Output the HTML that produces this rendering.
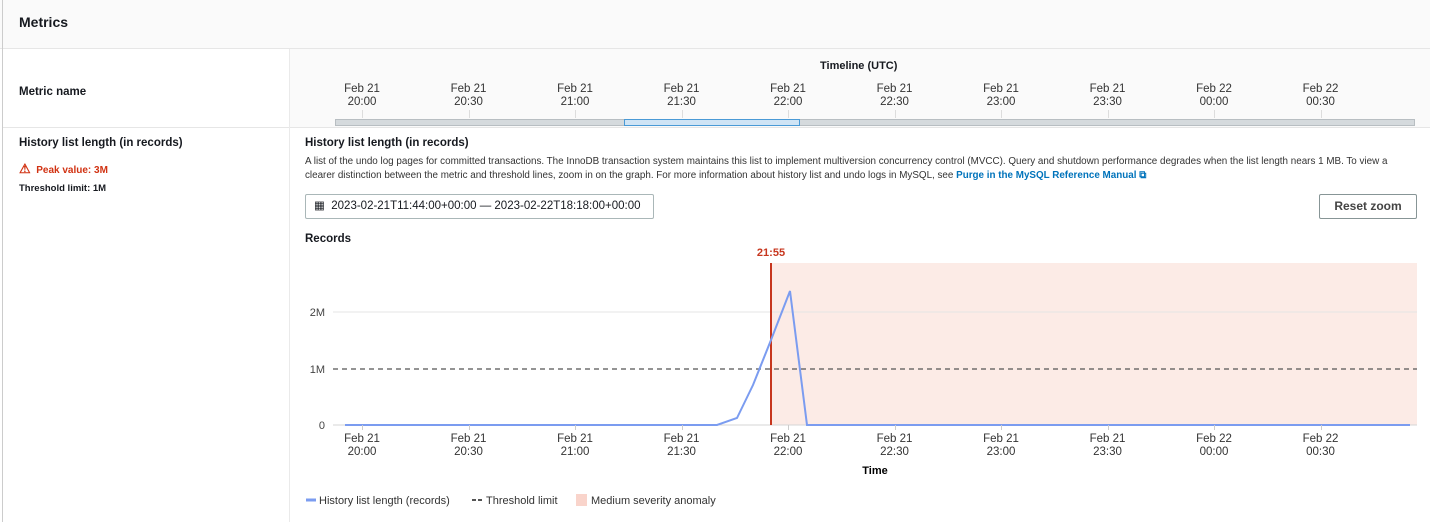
<!DOCTYPE html>
<html><head><meta charset="utf-8"><style>
body{margin:0;width:1430px;height:522px;background:#fff;font-family:"Liberation Sans",sans-serif;color:#16191f;position:relative;overflow:hidden}
.a{position:absolute;white-space:nowrap}
.b{font-weight:bold}
.t{font-size:11.5px;color:#333;text-align:center;width:60px;line-height:13px}
</style></head><body>
<div class="a" style="left:0;top:0;width:1430px;height:48px;background:#fafafa;border-bottom:1px solid #e6e6e6"></div>
<div class="a" style="left:2px;top:0;width:1px;height:522px;background:#ccc"></div>
<div class="a b" style="left:19px;top:14px;font-size:14px">Metrics</div>
<div class="a" style="left:3px;top:49px;width:1427px;height:78px;background:#fff;border-bottom:1px solid #e6e6e6"></div>
<div class="a" style="left:289px;top:49px;width:1141px;height:31px;background:#fafafa;border-bottom:1px solid #eaeaea"></div>
<div class="a" style="left:289px;top:80px;width:1141px;height:47px;background:#fafafa"></div>
<div class="a" style="left:289px;top:49px;width:1px;height:473px;background:#eaeaea"></div>
<div class="a b" style="left:820px;top:60px;font-size:11px">Timeline (UTC)</div>
<div class="a b" style="left:19px;top:86px;font-size:11.5px">Metric name</div>
<div class="a" style="left:335px;top:119px;width:1080px;height:7px;background:#d5dadd;border:1px solid #b8bec2;box-sizing:border-box"></div>
<div class="a" style="left:624px;top:119px;width:176px;height:7px;background:#cfe4f5;border:1px solid #4a9ad6;box-sizing:border-box"></div>
<div class="a b" style="left:19px;top:137px;font-size:11.5px">History list length (in records)</div>
<div class="a b" style="left:19px;top:161px;font-size:10px;color:#d13212"><span style="font-size:13px">⚠</span>&nbsp; Peak value: 3M</div>
<div class="a b" style="left:19px;top:183px;font-size:9.5px">Threshold limit: 1M</div>
<div class="a b" style="left:305px;top:137px;font-size:11.5px">History list length (in records)</div>
<div class="a" style="left:305px;top:155px;font-size:9.85px;line-height:14px;color:#333">A list of the undo log pages for committed transactions. The InnoDB transaction system maintains this list to implement multiversion concurrency control (MVCC). Query and shutdown performance degrades when the list length nears 1 MB. To view a<br>clearer distinction between the metric and threshold lines, zoom in on the graph. For more information about history list and undo logs in MySQL, see <span style="color:#0073bb;font-weight:bold">Purge in the MySQL Reference Manual ⧉</span></div>
<div class="a" style="left:305px;top:194px;width:349px;height:25px;border:1px solid #aab7b8;border-radius:2px;box-sizing:border-box;font-size:11.5px;line-height:23px;padding-left:8px">▦&nbsp; 2023-02-21T11:44:00+00:00 — 2023-02-22T18:18:00+00:00</div>
<div class="a b" style="left:1319px;top:194px;width:98px;height:25px;border:1px solid #879596;border-radius:2px;box-sizing:border-box;font-size:12px;line-height:23px;text-align:center;color:#444">Reset zoom</div>
<div class="a b" style="left:305px;top:233px;font-size:11.5px">Records</div>
<svg class="a" style="left:0;top:0" width="1430" height="522">
<rect x="771" y="263" width="646" height="162" fill="#fcebe6"/>
<line x1="333" y1="312" x2="1417" y2="312" stroke="#e4e4e4"/>
<line x1="333" y1="425" x2="1417" y2="425" stroke="#d5d5d5"/>
<line x1="333" y1="369" x2="1417" y2="369" stroke="#555" stroke-dasharray="5,4" stroke-width="1.2"/>
<line x1="771" y1="263" x2="771" y2="425" stroke="#c7361e" stroke-width="2"/>
<polyline points="345,425 717,425 737,418 753,385 771,340 790,291 807,425 1410,425" fill="none" stroke="#7b9cf0" stroke-width="2"/>
<text x="771" y="256" font-size="11" fill="#c7361e" text-anchor="middle" font-family="Liberation Sans" font-weight="bold">21:55</text>
<g font-size="11" fill="#444" text-anchor="end" font-family="Liberation Sans"><text x="325" y="316">2M</text><text x="325" y="373">1M</text><text x="325" y="429">0</text></g>
<text x="875" y="474" font-size="11" font-weight="bold" text-anchor="middle" font-family="Liberation Sans">Time</text>
<line x1="306" y1="500" x2="316" y2="500" stroke="#7b9cf0" stroke-width="3"/>
<line x1="472" y1="500" x2="483" y2="500" stroke="#555" stroke-width="2" stroke-dasharray="4,2"/>
<rect x="576" y="494" width="11" height="12" fill="#f9d4cb"/>
<g font-size="11" fill="#333" font-family="Liberation Sans"><text x="319" y="504">History list length (records)</text><text x="486" y="504">Threshold limit</text><text x="591" y="504">Medium severity anomaly</text></g>
</svg>
<div id="ax"></div>
<script>
var L=[["Feb 21","20:00"],["Feb 21","20:30"],["Feb 21","21:00"],["Feb 21","21:30"],["Feb 21","22:00"],["Feb 21","22:30"],["Feb 21","23:00"],["Feb 21","23:30"],["Feb 22","00:00"],["Feb 22","00:30"]];
var h="";for(var i=0;i<10;i++){var x=362+i*106.5;
h+='<div class="a t" style="left:'+(x-30)+'px;top:83px">'+L[i][0]+'<br>'+L[i][1]+'</div>';
h+='<div class="a" style="left:'+x+'px;top:110px;width:1px;height:8px;background:#ddd"></div>';
h+='<div class="a t" style="left:'+(x-30)+'px;top:433px">'+L[i][0]+'<br>'+L[i][1]+'</div>';
h+='<div class="a" style="left:'+x+'px;top:425px;width:1px;height:5px;background:#ccc"></div>';}
document.getElementById("ax").innerHTML=h;
</script>
</body></html>
